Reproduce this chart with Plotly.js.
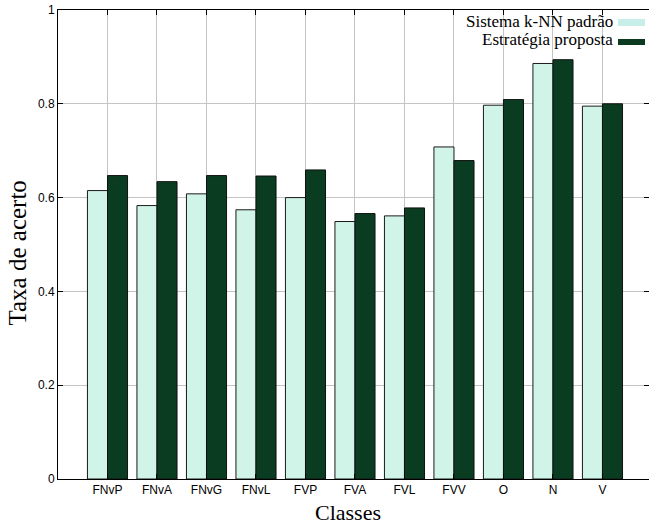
<!DOCTYPE html>
<html>
<head>
<meta charset="utf-8">
<script src="https://cdn.plot.ly/plotly-3.0.1.min.js"></script>
<style>html,body{margin:0;padding:0;background:#fff;}#chart{width:649px;height:525px;}</style>
</head>
<body>
<div id="chart"></div>
<script>
const categories = ["FNvP","FNvA","FNvG","FNvL","FVP","FVA","FVL","FVV","O","N","V"];
const knnValues = [0.615,0.583,0.608,0.574,0.600,0.549,0.561,0.708,0.797,0.886,0.795];
const proposedValues = [0.647,0.634,0.647,0.646,0.659,0.566,0.578,0.679,0.809,0.894,0.800];
const seriesNames = ["Sistema k-NN padrão","Estratégia proposta"];
const yTickValues = [0,0.2,0.4,0.6,0.8,1];
const xTitle = 'Classes', yTitle = 'Taxa de acerto';

const W = 649, H = 525;
const M = {l:58, r:0, t:10, b:46};
const pw = W - M.l - M.r, ph = H - M.t - M.b;
const px = x => (x - M.l) / pw;
const py = y => (H - M.b - y) / ph;

const lightCol = '#d0f4e8', darkCol = '#0a3c22';
const serif = 'Liberation Serif, Times New Roman, serif';
const sans = 'Liberation Sans, Arial, sans-serif';

const traces = [
  {type:'bar', x:categories, y:knnValues, name:seriesNames[0],
   marker:{color:lightCol, line:{color:'#1a1a1a', width:1}}, hoverinfo:'skip'},
  {type:'bar', x:categories, y:proposedValues, name:seriesNames[1],
   marker:{color:darkCol, line:{color:'#111111', width:1}}, hoverinfo:'skip'}
];

const layout = {
  width:W, height:H,
  margin:M,
  paper_bgcolor:'#fff', plot_bgcolor:'#fff',
  barmode:'group', bargap:0.19, bargroupgap:0,
  showlegend:false,
  xaxis:{
    type:'category', range:[-1, 10.94],
    showline:true, linecolor:'#000', linewidth:1, mirror:'ticks',
    ticks:'inside', ticklen:5, tickcolor:'#000',
    showgrid:true, gridcolor:'#c4c4c4', gridwidth:1,
    tickfont:{family:sans, size:12, color:'#000'},
    zeroline:false, fixedrange:true
  },
  yaxis:{
    range:[0,1], tickvals:yTickValues, ticktext:yTickValues.map(v=>String(v)),
    showline:true, linecolor:'#000', linewidth:1, mirror:'ticks',
    ticks:'inside', ticklen:5, tickcolor:'#000',
    showgrid:true, gridcolor:'#c4c4c4', gridwidth:1,
    tickfont:{family:sans, size:12, color:'#000'},
    zeroline:false, fixedrange:true
  },
  annotations:[
    {xref:'paper', yref:'paper', x:px(348), y:py(512), xanchor:'center', yanchor:'middle',
     text:xTitle, showarrow:false, font:{family:serif, size:22, color:'#000'}},
    {xref:'paper', yref:'paper', x:px(16.5), y:py(253), xanchor:'center', yanchor:'middle',
     text:yTitle, textangle:-90, showarrow:false, font:{family:serif, size:25, color:'#000'}},
    {xref:'paper', yref:'paper', x:px(615), y:py(21.5), xanchor:'right', yanchor:'middle',
     text:seriesNames[0], showarrow:false,
     font:{family:serif, size:17, color:'#000'}},
    {xref:'paper', yref:'paper', x:px(615), y:py(40), xanchor:'right', yanchor:'middle',
     text:seriesNames[1], showarrow:false,
     font:{family:serif, size:17, color:'#000'}}
  ],
  shapes:[
    {type:'rect', xref:'paper', yref:'paper', x0:px(618), x1:px(645), y0:py(26), y1:py(19),
     fillcolor:'#c8eeea', line:{width:0}},
    {type:'rect', xref:'paper', yref:'paper', x0:px(618), x1:px(645), y0:py(45), y1:py(39),
     fillcolor:'#0c3a20', line:{width:0}}
  ]
};

Plotly.newPlot('chart', traces, layout, {staticPlot:true, displayModeBar:false});
</script>
</body>
</html>
